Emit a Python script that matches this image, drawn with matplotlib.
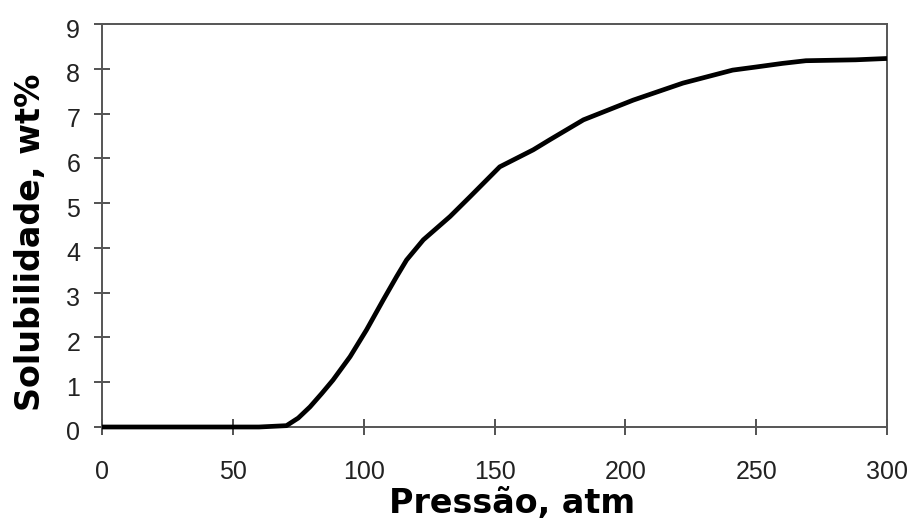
import matplotlib
matplotlib.use('Agg')
from matplotlib import pyplot as plt
from matplotlib import transforms
import numpy as np

# pressure (atm) and solubility (wt%)
pressao = [0, 20, 40, 60, 70.5, 75, 79.5, 84, 88.3, 94.8, 101.1, 107.5, 112.6, 116.4,
           122.8, 133, 140.6, 152, 164.8, 171, 184, 203, 222, 241, 250, 260, 269, 288, 300]
solub = [0, 0, 0, 0, 0.03, 0.2, 0.45, 0.75, 1.05, 1.57, 2.17, 2.84, 3.36, 3.73,
         4.18, 4.70, 5.14, 5.81, 6.19, 6.41, 6.86, 7.30, 7.68, 7.97, 8.04, 8.12, 8.18, 8.2, 8.23]

xticks = [0, 50, 100, 150, 200, 250, 300]
yticks = list(range(0, 10))

fig = plt.figure(figsize=(9.11, 5.25), dpi=100)
ax = fig.add_axes([102 / 911, 1 - 427 / 525, 785 / 911, 403 / 525])

ax.plot(pressao, solub, color='black', lw=3.4, solid_capstyle='butt',
        solid_joinstyle='round', zorder=3, clip_on=False)

ax.set_xlim(0, 300)
ax.set_ylim(0, 9)
ax.set_xticks(xticks)
ax.set_yticks(yticks)

for sp in ax.spines.values():
    sp.set_color('#555555')
    sp.set_linewidth(1.4)

ax.tick_params(axis='both', direction='inout', length=11.5, width=1.3, color='#444444',
               labelsize=18, labelcolor='#222222')
ax.tick_params(axis='x', pad=18)
ax.tick_params(axis='y', pad=10)

for lab in ax.get_xticklabels() + ax.get_yticklabels():
    lab.set_fontfamily('Liberation Sans')

off = transforms.ScaledTranslation(0, -4 / 100, fig.dpi_scale_trans)
for lab in ax.get_yticklabels():
    lab.set_transform(lab.get_transform() + off)

ax.set_xlabel('Pressão, atm', fontsize=24, fontweight='bold', family='DejaVu Sans')
ax.xaxis.set_label_coords(0.522, -0.19, transform=ax.transAxes)
ax.xaxis.label.set_va('center')
ax.set_ylabel('Solubilidade, wt%', fontsize=24, fontweight='bold', family='DejaVu Sans')
ax.yaxis.set_label_coords(-0.091, 0.459, transform=ax.transAxes)
ax.yaxis.label.set_va('center')

fig.savefig('out.png', dpi=100)
